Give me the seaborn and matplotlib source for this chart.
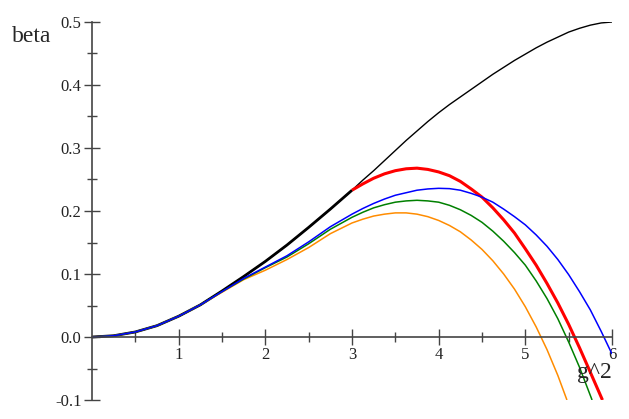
import matplotlib
matplotlib.use("Agg")
import matplotlib.pyplot as plt
import seaborn as sns
from matplotlib.ticker import FixedLocator

# values
g2_black = [0.0, 0.25, 0.5, 0.75, 1.0, 1.25, 1.5, 1.75, 2.0, 2.25, 2.5, 2.75, 3.0,
            3.125, 3.25, 3.375, 3.5, 3.625, 3.75, 3.875, 4.0, 4.125, 4.25, 4.375,
            4.5, 4.625, 4.75, 4.875, 5.0, 5.125, 5.25, 5.375, 5.5, 5.625, 5.75,
            5.875, 6.0]
beta_black = [0.0, 0.002, 0.008, 0.018, 0.033, 0.051, 0.073, 0.096, 0.120, 0.146,
              0.174, 0.203, 0.233, 0.249, 0.264, 0.280, 0.296, 0.312, 0.327, 0.342,
              0.356, 0.369, 0.381, 0.393, 0.405, 0.417, 0.428, 0.439, 0.449, 0.459,
              0.468, 0.476, 0.484, 0.490, 0.495, 0.4985, 0.500]

g2_blue = [0.0, 0.25, 0.5, 0.75, 1.0, 1.25, 1.5, 1.75, 2.0, 2.25, 2.5, 2.75, 3.0,
           3.125, 3.25, 3.375, 3.5, 3.625, 3.75, 3.875, 4.0, 4.125, 4.25, 4.375,
           4.5, 4.625, 4.75, 4.875, 5.0, 5.125, 5.25, 5.375, 5.5, 5.625, 5.75,
           5.875, 6.0]
beta_blue = [0.0, 0.002, 0.008, 0.018, 0.033, 0.051, 0.072, 0.093, 0.111, 0.129,
             0.151, 0.175, 0.195, 0.204, 0.212, 0.219, 0.225, 0.229, 0.233, 0.235,
             0.236, 0.2355, 0.233, 0.228, 0.222, 0.214, 0.203, 0.191, 0.178, 0.162,
             0.144, 0.123, 0.099, 0.072, 0.043, 0.009, -0.027]

g2_red = [3.0, 3.125, 3.25, 3.375, 3.5, 3.625, 3.75, 3.875, 4.0, 4.125, 4.25, 4.375,
          4.5, 4.625, 4.75, 4.875, 5.0, 5.125, 5.25, 5.375, 5.5, 5.625, 5.75, 5.89]
beta_red = [0.233, 0.243, 0.252, 0.259, 0.264, 0.267, 0.268, 0.266, 0.262, 0.256,
            0.247, 0.235, 0.222, 0.205, 0.186, 0.165, 0.140, 0.114, 0.085, 0.054,
            0.020, -0.017, -0.056, -0.100]

g2_green = [0.0, 0.25, 0.5, 0.75, 1.0, 1.25, 1.5, 1.75, 2.0, 2.25, 2.5, 2.75, 3.0,
            3.125, 3.25, 3.375, 3.5, 3.625, 3.75, 3.875, 4.0, 4.125, 4.25, 4.375,
            4.5, 4.625, 4.75, 4.875, 5.0, 5.125, 5.25, 5.375, 5.5, 5.625, 5.77]
beta_green = [0.0, 0.002, 0.008, 0.018, 0.033, 0.051, 0.072, 0.092, 0.110, 0.127,
              0.148, 0.171, 0.190, 0.198, 0.205, 0.210, 0.214, 0.216, 0.217, 0.216,
              0.214, 0.209, 0.202, 0.193, 0.182, 0.168, 0.152, 0.134, 0.114, 0.089,
              0.061, 0.029, -0.008, -0.048, -0.100]

g2_orange = [0.0, 0.25, 0.5, 0.75, 1.0, 1.25, 1.5, 1.75, 2.0, 2.25, 2.5, 2.75, 3.0,
             3.125, 3.25, 3.375, 3.5, 3.625, 3.75, 3.875, 4.0, 4.125, 4.25, 4.375,
             4.5, 4.625, 4.75, 4.875, 5.0, 5.125, 5.25, 5.375, 5.48]
beta_orange = [0.0, 0.002, 0.008, 0.018, 0.033, 0.051, 0.071, 0.091, 0.106, 0.123,
               0.142, 0.164, 0.181, 0.187, 0.192, 0.195, 0.197, 0.197, 0.195, 0.191,
               0.185, 0.177, 0.167, 0.154, 0.139, 0.121, 0.100, 0.076, 0.048, 0.016,
               -0.020, -0.061, -0.100]

x_ticks = [1, 2, 3, 4, 5, 6]
y_ticks = [-0.1, 0.0, 0.1, 0.2, 0.3, 0.4, 0.5]

sns.set_style("ticks")
plt.rcParams['font.family'] = ['Liberation Serif', 'DejaVu Serif']

fig = plt.figure(figsize=(6.29, 4.19), dpi=100)
ax = fig.add_axes([92 / 629, 19 / 419, 520 / 629, 378 / 419])

line_kw = dict(ax=ax, sort=False, solid_joinstyle='round', solid_capstyle='butt')
sns.lineplot(x=g2_black[:13], y=beta_black[:13], color='black', linewidth=2.0, **line_kw)
sns.lineplot(x=g2_black, y=beta_black, color='black', linewidth=1.0, **line_kw)
sns.lineplot(x=g2_orange, y=beta_orange, color='#ff8c00', linewidth=1.1, **line_kw)
sns.lineplot(x=g2_green, y=beta_green, color='#008000', linewidth=1.1, **line_kw)
sns.lineplot(x=g2_red, y=beta_red, color='red', linewidth=2.2, **line_kw)
sns.lineplot(x=g2_blue, y=beta_blue, color='blue', linewidth=1.1, **line_kw)

ax.set_xlim(0, 6)
ax.set_ylim(-0.1, 0.5)

for side in ['top', 'right']:
    ax.spines[side].set_visible(False)
ax.spines['bottom'].set_position(('data', 0))
for side in ['left', 'bottom']:
    ax.spines[side].set_color('#444444')
    ax.spines[side].set_linewidth(1.2)

ax.xaxis.set_major_locator(FixedLocator(x_ticks))
ax.xaxis.set_minor_locator(FixedLocator([0.5, 1.5, 2.5, 3.5, 4.5, 5.5]))
ax.yaxis.set_major_locator(FixedLocator(y_ticks))
ax.yaxis.set_minor_locator(FixedLocator([-0.05, 0.05, 0.15, 0.25, 0.35, 0.45]))
ax.set_xticklabels([str(t) for t in x_ticks])
ax.set_yticklabels([f"{t:.1f}" for t in y_ticks])

ax.tick_params(which='both', bottom=True, left=True, top=False, right=False)
ax.tick_params(which='major', direction='inout', length=11, width=1.0,
               color='#444444', labelsize=12, pad=2, labelcolor='#222222')
ax.tick_params(which='minor', direction='inout', length=7, width=1.0,
               color='#444444')

ax.text(5.8, -0.056, 'g^2', ha='center', va='center', fontsize=17)
fig.text(32 / 629, 1 - 37 / 419, 'beta', ha='center', va='center', fontsize=17)

fig.savefig('out.png', dpi=100)
